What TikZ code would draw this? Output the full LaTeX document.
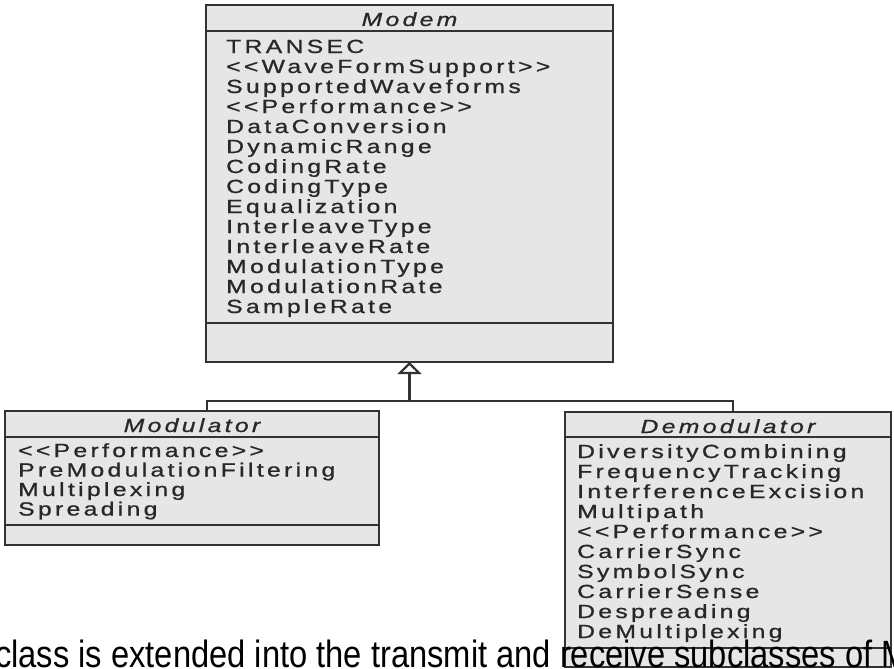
\documentclass[tikz,border=0pt]{standalone}
\usepackage{fontspec}
\setmainfont{Liberation Sans}
\newfontfamily\umlfont[LetterSpace=13.5, FakeBold=0.8]{Liberation Sans}
\usetikzlibrary{arrows.meta}

\definecolor{boxfill}{RGB}{230,230,230}
\definecolor{boxline}{RGB}{50,50,50}
\definecolor{umltext}{RGB}{40,40,40}

% wide, tracked sans used inside the class boxes
\newcommand{\umltxt}[1]{\scalebox{1.3}[1]{\umlfont #1}}

\tikzset{
  classbox/.style={draw=boxline, fill=boxfill, line width=2.2pt, rectangle,
                   anchor=north west, inner sep=0pt, outer sep=0pt},
  compartment/.style={draw=boxline, line width=2pt},
  attr/.style={anchor=base west, inner sep=0pt, text=umltext,
               font=\fontsize{19}{20}\selectfont},
  classname/.style={anchor=base, inner sep=0pt, text=umltext,
                    font=\fontsize{19}{20}\selectfont\itshape},
  link/.style={draw=boxline, line width=2.2pt},
}

\begin{document}
\begin{tikzpicture}[x=1pt, y=-1pt]
  \path[use as bounding box, fill=white] (0,0) rectangle (894,669);

  % ---- Modem (superclass) ----
  \node[classbox, minimum width=407pt, minimum height=357pt] (modem) at (206,5) {};
  \draw[compartment] (206,31) -- (613,31);
  \draw[compartment] (206,323) -- (613,323);
  \node[classname] (modemname) at (409.5,26) {\umltxt{Modem}};
  \foreach \t [count=\i from 0] in {TRANSEC, {<<WaveFormSupport>>}, SupportedWaveforms,
      {<<Performance>>}, DataConversion, DynamicRange, CodingRate, CodingType,
      Equalization, InterleaveType, InterleaveRate, ModulationType,
      ModulationRate, SampleRate}
    \node[attr] (modemattr\i) at (226, 53+20*\i) {\umltxt{\t}};

  % ---- Modulator ----
  \node[classbox, minimum width=374pt, minimum height=134pt] (modulator) at (5,411) {};
  \draw[compartment] (5,437) -- (379,437);
  \draw[compartment] (5,525) -- (379,525);
  \node[classname] (modname) at (192,432) {\umltxt{Modulator}};
  \foreach \t [count=\i from 0] in {{<<Performance>>}, PreModulationFiltering,
      Multiplexing, Spreading}
    \node[attr] (modattr\i) at (18, 457+19.5*\i) {\umltxt{\t}};

  % ---- Demodulator ----
  \node[classbox, minimum width=326pt, minimum height=255pt] (demodulator) at (565,412) {};
  \draw[compartment] (565,437) -- (891,437);
  \draw[compartment] (565,648) -- (891,648);
  \node[classname] (demodname) at (728,433) {\umltxt{Demodulator}};
  \foreach \t [count=\i from 0] in {DiversityCombining, FrequencyTracking,
      InterferenceExcision, Multipath, {<<Performance>>}, CarrierSync,
      SymbolSync, CarrierSense, Despreading, DeMultiplexing}
    \node[attr] (demodattr\i) at (577, 458+20*\i) {\umltxt{\t}};

  % ---- generalization ----
  \coordinate (hub) at (409.5,401);
  \draw[link, -{Triangle[open, length=12pt, width=24pt]}] (hub) -- (modem.south);
  \draw[link] ([xshift=15pt]modulator.north) |- (hub) -| ([xshift=5pt]demodulator.north);

  % ---- caption line ----
  \node[anchor=base west, inner sep=0pt, font=\fontsize{38}{42}\selectfont] (caption)
    at (-5,667) {\scalebox{0.86}[1]{class is extended into the transmit and receive subclasses of M}};
\end{tikzpicture}
\end{document}
